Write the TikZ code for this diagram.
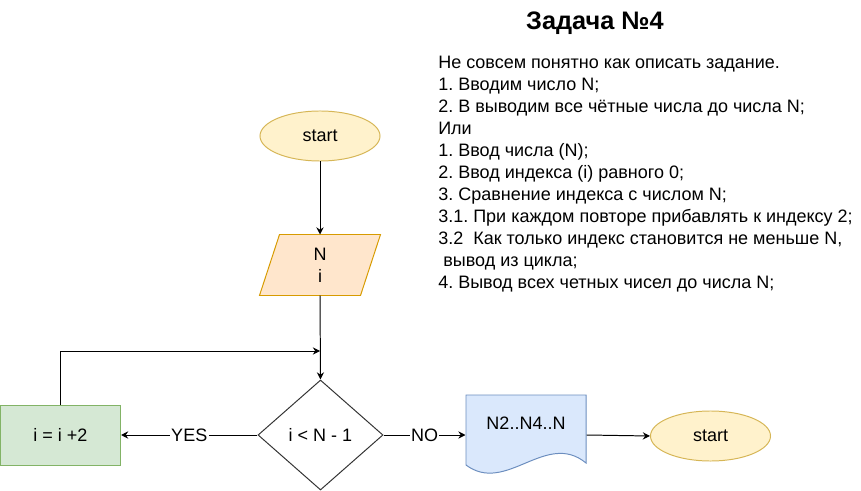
\documentclass[tikz,border=0pt]{standalone}
\usepackage{fontspec}
\setmainfont{Liberation Sans}
\usetikzlibrary{arrows.meta,shapes.geometric}
\definecolor{cTerm}{HTML}{FFF2CC}
\definecolor{cTermLn}{HTML}{D6B656}
\definecolor{cIn}{HTML}{FFE6CC}
\definecolor{cInLn}{HTML}{D79B00}
\definecolor{cOp}{HTML}{D5E8D4}
\definecolor{cOpLn}{HTML}{82B366}
\definecolor{cDoc}{HTML}{DAE8FC}
\definecolor{cDocLn}{HTML}{6C8EBF}
\tikzset{
  fnode/.style={align=center, inner sep=0pt, line width=0.7pt,
    font=\fontsize{12.8}{15.6}\selectfont},
  term/.style={fnode, ellipse, draw=cTermLn, fill=cTerm,
    minimum width=3cm, minimum height=1.25cm},
  inbox/.style={fnode, rectangle, minimum width=3cm, minimum height=1.5cm},
  inline/.style={draw=cInLn, fill=cIn, line width=0.7pt},
  opbox/.style={fnode, rectangle, draw=cOpLn, fill=cOp,
    minimum width=3cm, minimum height=1.5cm},
  cond/.style={fnode, diamond, draw=black!80,
    minimum width=3.125cm, minimum height=2.75cm},
  docbox/.style={fnode, rectangle, minimum width=3cm, minimum height=2cm},
  docline/.style={draw=cDocLn, fill=cDoc, line width=0.7pt},
  flow/.style={-{Stealth[length=1.8mm, width=1.8mm, inset=0.6mm]}, line width=0.7pt},
  lbl/.style={fill=white, inner sep=1pt, font=\fontsize{12.8}{15.6}\selectfont},
}
\begin{document}
\frenchspacing
\begin{tikzpicture}[x=0.025cm, y=-0.025cm]
    \useasboundingbox (0,0) rectangle (861,491);
    % --- title and task note ---
    \node[anchor=base, font=\bfseries\fontsize{18}{22}\selectfont] (title) at (595,30) {Задача №4};
    \node[anchor=north west, align=left, inner sep=0pt,
      font=\fontsize{12.8}{15.65}\selectfont] (note) at (438,56) {%
      Не совсем понятно как описать задание.\\
      1. Вводим число N;\\
      2. В выводим все чётные числа до числа N;\\
      Или\\
      1. Ввод числа (N);\\
      2. Ввод индекса (i) равного 0;\\
      3. Сравнение индекса с числом N;\\
      3.1. При каждом повторе прибавлять к индексу 2;\\
      3.2\ \ Как только индекс становится не меньше N,\\
      \hspace*{0.28em}вывод из цикла;\\
      4. Вывод всех четных чисел до числа N;};
    % --- flowchart nodes, explicit coordinates ---
    \node[term]   (start) at (320,136)   {start};
    \node[inbox]  (inp)   at (320,265)   {};
    \node[cond]   (test)  at (320.5,435) {i < N - 1};
    \node[opbox]  (inc)   at (60.5,435)  {i = i +2};
    \node[docbox] (doc)   at (526,435)   {};
    \node[term]   (stop)  at (710.5,436) {start};
    \coordinate (merge) at (320,351);
    % input parallelogram
    \path[inline] ([xshift=0.5cm]inp.north west) -- (inp.north east)
      -- ([xshift=-0.5cm]inp.south east) -- (inp.south west) -- cycle;
    \node[fnode] (inptext) at (inp.center) {N\\i};
    % document shape with wavy bottom
    \path[docline] (466,395) -- (586,395) -- (586,463)
      .. controls (546,430) and (506,495) .. (466,465) -- cycle;
    \node[fnode] (doctext) at (526,423) {N2..N4..N};
    % --- connectors ---
    \draw[flow] (start) -- (inp);
    \draw[flow] (inp.south) -- (test.north);
    \draw[flow] (test.west) -- node[lbl]{YES} (inc.east);
    \draw[flow] (test.east) -- node[lbl]{NO} (doc.west);
    \draw[flow] (doc.east) -- (stop.west);
    % loop back above the test
    \draw[flow] (inc.north) |- (merge);
\end{tikzpicture}
\end{document}
